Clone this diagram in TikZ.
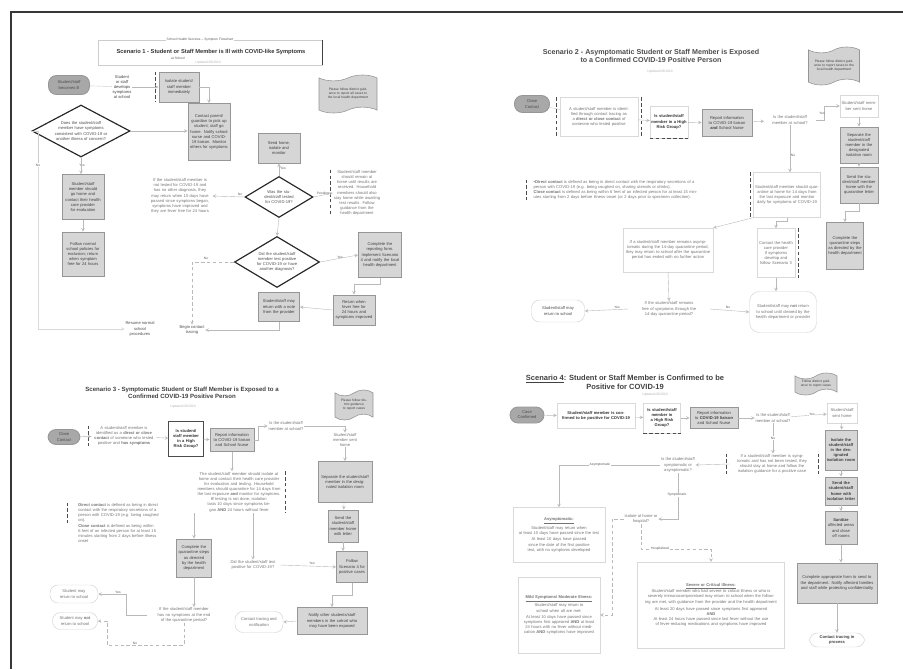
\documentclass[tikz,border=0pt]{standalone}
\usepackage{fontspec}
\setmainfont{Liberation Sans}
\usepackage{tikz}
\usetikzlibrary{shapes,arrows,positioning,calc}
\definecolor{boxgray}{RGB}{214,214,214}
\definecolor{edgegray}{RGB}{150,150,150}
\definecolor{pillgray}{RGB}{168,168,168}
\definecolor{inkgray}{RGB}{115,115,115}
\definecolor{framegray}{RGB}{55,55,55}
\newcommand\bxfont{\fontsize{3.5}{4.4}\selectfont}
\newcommand\smfont{\fontsize{2.8}{3.4}\selectfont}
\newcommand\ttlfont[2]{\fontsize{#1}{#2}\selectfont\bfseries}

\tikzset{
  gbox/.style={draw=edgegray, line width=0.7pt, fill=boxgray, align=center, inner sep=1pt, font=\bxfont, text=black!75},
  wbox/.style={draw=gray!30, line width=0.3pt, fill=white, align=center, inner sep=1pt, font=\bxfont, text=inkgray},
  txt/.style={align=center, inner sep=0.5pt, font=\bxfont, text=inkgray},
  pill/.style={rounded corners=2.4mm, draw=edgegray, line width=0.7pt, fill=pillgray, align=center, inner sep=1pt, font=\bxfont, text=black!70},
  wpill/.style={rounded corners=2.4mm, draw=gray!35, line width=0.4pt, fill=white, align=center, inner sep=1pt, font=\bxfont, text=inkgray},
  decide/.style={diamond, shape aspect=2, draw=black!85, line width=1pt, align=center, inner sep=0pt, font=\bxfont, text=black!70},
  doc/.style={tape, draw=edgegray, fill=gray!35, line width=0.5pt, align=center, inner sep=1pt, font=\smfont, text=black!75},
  conn/.style={->, >=stealth, draw=gray!55, line width=0.35pt},
  link/.style={draw=gray!40, line width=0.35pt},
  brk/.style={draw=black!70, densely dashed, line width=0.5pt},
  lbl/.style={font=\smfont, text=black!65, inner sep=0.5pt},
}

\begin{document}
\begin{tikzpicture}[x=0.3mm, y=-0.3mm]
\useasboundingbox (0,0) rectangle (903,669);
\draw[framegray, line width=1.3pt] (903,12) -- (11,12) -- (11,669);

% Scenario 1
\node[draw=gray!40, line width=0.5pt, minimum width=67.2mm, minimum height=7.5mm] (s1frame) at (210,52.5) {};
\draw[black!75, line width=0.7pt] (s1frame.north east) -- (s1frame.south east);
\node[lbl, fill=white] (s1top) at (200,40) {School Health Services -- Symptom Flowchart};
\node[txt, font={\ttlfont{4.9}{5.9}}, text=black!80] (s1title) at (211,52) {Scenario 1 - Student or Staff Member is Ill with COVID-like Symptoms};
\node[lbl] (s1sub) at (178,58) {at School};
\node[lbl, text=gray!60] (s1date) at (208,62.5) {Updated 08/2020};
\node[pill, minimum width=12.3mm, minimum height=5.7mm] (s1start) at (69,85) {Student/staff\\becomes ill};
\node[txt, text=black!75] (s1lbl) at (122,87) {Student\\or staff\\develops\\symptoms\\at school};
\node[gbox, text width=11mm, minimum width=12mm, minimum height=9mm] (s1iso) at (179,87) {Isolate student/\\staff member\\immediately};
\draw[brk] ([xshift=-1mm]s1iso.north west) -- ([xshift=-1mm]s1iso.south west);
\node[gbox, text width=11.6mm, minimum width=12.6mm, minimum height=17.1mm] (s1call) at (209,132) {Contact parent/ guardian to pick up student; staff go home. Notify school nurse and COVID-19 liaison. Monitor others for symptoms};
\node[doc, text width=15mm, minimum width=17.4mm, minimum height=11.4mm] (s1doc) at (348,94) {Please follow district guidance to report all cases to the local health department};
\node[decide, text width=17mm, minimum width=29.4mm, minimum height=15.6mm] (s1d1) at (81,131) {Does the student/staff member have symptoms consistent with COVID-19 or another illness of concern?};
\node[lbl] (s1no) at (38,165) {No};
\node[lbl] (s1yes) at (82,165) {Yes};
\node[gbox, text width=11.6mm, minimum width=12.6mm, minimum height=13.5mm] (s1b1) at (83,197) {Student/staff member should go home and contact their health care provider for evaluation};
\node[gbox, text width=11.6mm, minimum width=12.6mm, minimum height=13.2mm] (s1b2) at (83,254) {Follow normal school policies for exclusion; return when symptom free for 24 hours};
\node[txt, text width=19mm] (s1mid) at (180,196) {If the student/staff member is not tested for COVID-19 and has no other diagnosis, they may return when 10 days have passed since symptoms began, symptoms have improved and they are fever free for 24 hours};
\node[gbox, text width=11.6mm, minimum width=12.6mm, minimum height=9mm] (s1home) at (279,148) {Send home,\\isolate and\\monitor};
\node[decide, text width=10mm, minimum width=20.4mm, minimum height=12.3mm] (s1d2) at (279,197) {Was the student/staff tested for COVID-19?};
\node[txt, text width=14mm] (s1right) at (357,193) {Student/staff member should remain at home until results are received. Household members should also stay home while awaiting test results. Follow guidance from the health department};
\draw[brk] ([xshift=-0.8mm]s1right.north west) -- ([xshift=-0.8mm]s1right.south west);
\node[decide, text width=13mm, minimum width=25.5mm, minimum height=15.3mm] (s1d3) at (277,262) {Did the student/staff member test positive for COVID-19 or have another diagnosis?};
\node[gbox, text width=12mm, minimum width=12.9mm, minimum height=13.5mm] (s1rb) at (380,255) {Complete the reporting form. Implement Scenario 4 and notify the local health department};
\node[gbox, text width=11.4mm, minimum width=12.3mm, minimum height=8.7mm] (s1b3) at (279,307) {Student/staff may return with a note from the provider};
\node[gbox, text width=11.6mm, minimum width=12.6mm, minimum height=9mm] (s1b4) at (354,310) {Return when fever free for 24 hours and symptoms improved};
\node[txt, text=black!70] (s1ret) at (140,329) {Resume normal\\school\\procedures};
\node[txt, text=black!70] (s1beg) at (192,330) {Begin contact\\tracing};

\draw[link] (s1start) -- (s1lbl);
\draw[conn] (s1lbl) -- (s1iso);
\draw[conn] (s1iso.east) -| (s1call.north);
\draw[conn] (s1d1.east) -- (s1call.west |- s1d1.east);
\draw[conn] (s1d1.south) -- (s1d1.south |- s1b1.north);
\draw[conn] (s1b1) -- (s1b2);
\draw[link] (s1d1.west) -| (s1no.north);
\draw[conn, draw=gray!30] (s1no.south) |- (s1ret.west);
\draw[conn] (s1d2.north) -- (s1home.south);
\node[lbl] at (283,168) {Yes};
\draw[conn] (s1d2.west) -- (s1mid.east);
\node[lbl] at (240,194) {No};
\draw[conn] (s1d2.east) -- (s1right.west);
\node[lbl] at (323,194) {Pending};
\draw[conn] (s1d2.south) -- (s1d3.north);
\draw[conn] (s1d3.east) -- (s1rb.west);
\node[lbl] at (340,257) {Yes};
\draw[conn, densely dashed] (s1d3.west) -| (s1beg.north);
\node[lbl] at (206,258) {No};
\draw[conn] (s1rb.south) -- ++(0,6) -| (s1b4.north);
\draw[conn] (s1b4.west) -- (s1b3.east);
\draw[conn] (s1b3.south) |- (s1beg.east);

% Scenario 2
\node[txt, font={\ttlfont{6.1}{7.3}}, text=black!70] (s2title) at (651,56) {Scenario 2 - Asymptomatic Student or Staff Member is Exposed\\to a Confirmed COVID-19 Positive Person};
\node[lbl, text=gray!60] (s2date) at (660,72) {Updated 08/2020};
\node[doc, text width=13.5mm, minimum width=15.3mm, minimum height=11.4mm] (s2doc) at (834,66) {Please follow district guidance to report cases to the local health department};
\node[pill, minimum width=10.5mm, minimum height=5.1mm] (s2start) at (532,104) {Close\\Contact};
\node[wbox, text width=22.5mm, minimum width=23.4mm, minimum height=11.7mm] (s2exp) at (599,117) {A student/staff member is identified through contact tracing as a \textbf{direct or close contact} of someone who tested positive};
\draw[brk] ([xshift=-1mm]s2exp.north west) -- ([xshift=-1mm]s2exp.south west);
\draw[brk] ([xshift=1mm]s2exp.north east) -- ([xshift=1mm]s2exp.south east);
\node[wbox, text width=10.6mm, minimum width=11.4mm, minimum height=9.6mm, text=black!80, font=\bxfont\bfseries] (s2risk) at (669,122) {Is student/staff member in a High Risk Group?};
\draw[brk] (s2risk.south west) -- (s2risk.south east);
\node[gbox, text width=14mm, minimum width=15mm, minimum height=8.1mm] (s2rep) at (727,123) {Report information to COVID-19 liaison \textbf{and} School Nurse};
\node[txt, text width=15mm] (s2ill) at (790,120) {Is the student/staff member at school?};
\node[wbox, text width=10.6mm, minimum width=11.4mm, minimum height=6.6mm] (s2sent) at (859,106) {Student/staff member sent home};
\node[gbox, text width=10.6mm, minimum width=11.4mm, minimum height=10.8mm] (s2q1) at (859,145) {Separate the student/staff member in the designated isolation room};
\node[gbox, text width=10.6mm, minimum width=11.4mm, minimum height=10.8mm] (s2q2) at (859,185) {Send the student/staff member home with the quarantine letter};
\node[txt, text width=50mm, align=left] (s2def) at (617,190) {\textbf{\textbullet Direct contact} is defined as being in direct contact with the respiratory secretions of a person with COVID-19 (e.g. being coughed on, sharing utensils or drinks).\\\textbf{Close contact} is defined as being within 6 feet of an infected person for at least 15 minutes starting from 2 days before illness onset (or 2 days prior to specimen collection).};
\draw[brk] ([xshift=-2mm]s2def.north west) -- ([xshift=-2mm]s2def.south west);
\node[wbox, text width=19.2mm, minimum width=20.1mm, minimum height=13.5mm] (s2mem) at (787,195) {Student/staff member should quarantine at home for 14 days from the last exposure and monitor daily for symptoms of COVID-19};
\draw[brk] ([xshift=-1mm]s2mem.north west) -- ([xshift=-1mm]s2mem.south west);
\node[wbox, text width=10.6mm, minimum width=11.4mm, minimum height=14.7mm] (s2w) at (776,253) {Contact the health care provider if symptoms develop and follow Scenario 3};
\draw[brk] ([xshift=1mm]s2w.north east) -- ([xshift=1mm]s2w.south east);
\node[gbox, text width=10.2mm, minimum width=11.1mm, minimum height=14.1mm] (s2g) at (845,246) {Complete the quarantine steps as directed by the health department};
\node[wbox, text width=26mm, minimum width=27mm, minimum height=13.2mm] (s2x) at (668,250) {If a student/staff member remains asymptomatic during the 14-day quarantine period, they may return to school after the quarantine period has ended with no further action};
\node[wpill, minimum width=15.9mm, minimum height=6.6mm, text=black!70] (s2ret) at (558,311) {Student/staff may\\return to school};
\node[txt, text width=24mm] (s2q) at (669,309) {If the student/staff remains free of symptoms through the 14-day quarantine period?};
\node[wpill, rounded corners=3mm, text width=19mm, minimum width=20.1mm, minimum height=12.3mm] (s2end) at (783,312) {Student/staff may \textbf{not} return to school until cleared by the health department or provider};

\draw[link] (s2start) -- (s2exp);
\draw[conn] (s2exp) -- (s2risk);
\draw[conn] (s2risk) -- (s2rep);
\draw[conn] (s2rep) -- (s2ill);
\draw[conn] (s2ill.east) -- ++(8,0) |- (s2sent.west);
\node[lbl] at (822,113) {Yes};
\draw[conn] (s2sent) -- (s2q1);
\draw[conn] (s2q1) -- (s2q2);
\draw[conn] (s2q2.south) -- ++(0,8) -| (s2g.north);
\draw[conn] (s2ill.south) -- (s2ill.south |- s2mem.north);
\node[lbl] at (793,155) {No};
\draw[conn] (s2mem.south west) -- (s2x.north east);
\draw[conn] (s2mem.south) -- ++(0,4) -| (s2w.north);
\draw[conn] (s2x.south) -- (s2q.north);
\draw[conn] (s2q.west) -- (s2ret.east);
\node[lbl] at (617,307) {Yes};
\draw[conn] (s2q.east) -- (s2end.west);
\node[lbl] at (728,307) {No};
\draw[conn] (s2w.south) -- (s2w.south |- s2end.north);

% Scenario 3
\node[txt, font={\ttlfont{5.2}{6.2}}, text=black!75] (s3title) at (182,393) {Scenario 3 - Symptomatic Student or Staff Member is Exposed to a\\Confirmed COVID-19 Positive Person};
\node[lbl, text=gray!60] (s3date) at (183,407) {Updated 08/2020};
\node[doc, text width=10mm, minimum width=11.4mm, minimum height=9mm] (s3doc) at (354,405) {Please follow district guidance to report cases};
\node[pill, minimum width=9.6mm, minimum height=4.5mm] (s3start) at (64,437) {Close\\Contact};
\node[txt, text width=19mm] (s3exp) at (124,436) {A student/staff member is identified as a \textbf{direct or close contact} of someone who tested positive and \textbf{has symptoms}};
\draw[brk] ([xshift=-1mm]s3exp.north west) -- ([xshift=-1mm]s3exp.south west);
\node[wbox, draw=black!70, text width=9.6mm, minimum width=10.5mm, minimum height=10.5mm, text=black!80, font=\bxfont\bfseries] (s3risk) at (186,439) {Is student/ staff member in a High Risk Group?};
\node[gbox, text width=12.3mm, minimum width=13.2mm, minimum height=6.9mm] (s3rep) at (232,440) {Report information to COVID-19 liaison and School Nurse};
\node[txt] (s3ill) at (286,426) {Is the student/staff\\member at school?};
\node[txt] (s3sent) at (345,440) {Student/staff\\member sent\\home};
\node[txt, text width=25.5mm] (s3big) at (239,492) {The student/staff member should isolate at home and contact their health care provider for evaluation and testing. Household members should quarantine for 14 days from the last exposure \textbf{and} monitor for symptoms.\\ \textbf{If} testing is not done, isolation lasts 10 days since symptoms began \textbf{AND} 24 hours without fever};
\draw[brk] ([xshift=1mm]s3big.north east) -- ([xshift=1mm]s3big.south east);
\node[gbox, text width=15.3mm, minimum width=16.2mm, minimum height=12.3mm] (s3q1) at (345,482) {Separate the student/staff member in the designated isolation room};
\node[gbox, text width=8.1mm, minimum width=9mm, minimum height=9.6mm] (s3q2) at (343,526) {Send the student/staff member home with letter};
\node[txt, text width=25mm, align=left] (s3def) at (120,523) {\textbf{Direct contact} is defined as being in direct contact with the respiratory secretions of a person with COVID-19 (e.g. being coughed on).\\\textbf{Close contact} is defined as being within 6 feet of an infected person for at least 15 minutes starting from 2 days before illness onset};
\draw[brk] ([xshift=-3mm]s3def.north west) -- ([xshift=-3mm]s3def.west);
\node[gbox, text width=9.6mm, minimum width=10.5mm, minimum height=11.4mm] (s3g) at (194,558) {Complete the quarantine steps as directed by the health department};
\node[txt, text width=16mm] (s3if) at (253,565) {Did the student/staff test positive for COVID-19?};
\node[gbox, text width=8.4mm, minimum width=9.3mm, minimum height=9.3mm] (s3g2) at (352,567) {Follow Scenario 4 for positive cases};
\node[wpill, minimum width=14.4mm, minimum height=5.4mm] (s3ret) at (74,594) {Student may\\return to school};
\node[wpill, minimum width=13.5mm, minimum height=5.1mm] (s3not) at (75,621) {Student may \textbf{not}\\return to school};
\node[txt, text width=22mm] (s3q) at (184,615) {If the student/staff member has no symptoms at the end of the quarantine period?};
\node[wpill, minimum width=14.4mm, minimum height=6.3mm] (s3pill) at (259,622) {Contact tracing and\\notification};
\node[gbox, text width=20mm, minimum width=21mm, minimum height=8.1mm] (s3g3) at (332,621) {Notify other students/staff members in the cohort who may have been exposed};

\draw[conn] (s3start) -- (s3exp);
\draw[conn] (s3exp) -- (s3risk);
\draw[conn] (s3risk) -- (s3rep);
\draw[conn] (s3rep.east) -- ++(4,0) |- (s3ill.west);
\draw[conn] (s3ill.east) -| (s3sent.north);
\draw[conn] (s3sent) -- (s3q1);
\draw[conn] (s3q1) -- (s3q2);
\draw[conn] (s3rep.south) -- (s3rep.south |- s3big.north);
\draw[conn] (s3big.south -| s3g.north) -- (s3g.north);
\draw[conn] (s3big.south -| s3if.north) -- (s3if.north);
\draw[conn] (s3q2.south) -- (s3q2.south |- s3g2.north);
\draw[conn] (s3if.east) -- (s3g2.west);
\node[lbl] at (312,563) {Yes};
\draw[conn] (s3g2.south) -- ++(0,12) -| (s3g3.north);
\draw[conn] (s3g3.west) -- (s3pill.east);
\draw[conn] (s3g.south) -- (s3g.south |- s3q.north);
\draw[conn] (s3q.west) -- ++(-20,0) |- (s3ret.east);
\node[lbl] at (118,592) {Yes};
\coordinate (s3c) at (107,645);
\draw[conn, densely dashed] (s3q.south) |- (s3c) |- (s3not.east);
\node[lbl] at (135,643) {No};

% Scenario 4
\node[txt, font={\ttlfont{6.4}{7.4}}, text=black!75] (s4title) at (625,382) {\underline{Scenario 4}: Student or Staff Member is Confirmed to be\\Positive for COVID-19};
\node[lbl, text=gray!60] (s4date) at (655,395) {Updated 08/2020};
\node[doc, text width=11mm, minimum width=12.6mm, minimum height=6.6mm] (s4doc) at (816,384) {Follow district guidance to report cases};
\node[pill, minimum width=10.2mm, minimum height=4.8mm] (s4start) at (527,415) {Case\\Confirmed};
\node[wbox, text width=22.5mm, minimum width=23.4mm, minimum height=7.5mm, text=black!80, font=\bxfont\bfseries] (s4conf) at (596,416) {Student/staff member is confirmed to be positive for COVID-19};
\node[wbox, text width=10.2mm, minimum width=11.1mm, minimum height=9mm, text=black!80, font=\bxfont\bfseries] (s4risk) at (662,418) {Is student/staff member in a High Risk Group?};
\draw[brk] (s4risk.south west) -- (s4risk.south east);
\node[gbox, text width=13.5mm, minimum width=14.4mm, minimum height=6.3mm] (s4rep) at (714,418) {Report information to \textbf{COVID-19 liaison} and School Nurse};
\node[txt] (s4ill) at (773,418) {Is the student/staff\\member at school?};
\node[wbox, text width=8.1mm, minimum width=9mm, minimum height=6mm] (s4tr) at (842,413) {Student/staff sent home};
\node[gbox, text width=8.7mm, minimum width=9.6mm, minimum height=12mm, font=\bxfont\bfseries] (s4g1) at (841,450) {Isolate the student/staff in the designated isolation room};
\node[gbox, text width=8.7mm, minimum width=9.6mm, minimum height=8.4mm, font=\bxfont\bfseries] (s4g2) at (841,491) {Send the student/staff home with isolation letter};
\node[gbox, text width=8.7mm, minimum width=9.6mm, minimum height=9.9mm] (s4g3) at (841,528) {\textbf{Sanitize} affected areas and close off rooms};
\node[txt, text width=25mm] (s4cl) at (772,464) {If a student/staff member is symptomatic and has not been tested, they should stay at home and follow the isolation guidance for a positive case};
\draw[brk] ([xshift=-1mm]s4cl.north west) -- ([xshift=-1mm]s4cl.south west);
\draw[brk] ([xshift=1mm]s4cl.north east) -- ([xshift=1mm]s4cl.south east);
\node[txt] (s4sym) at (678,465) {Is the student/staff\\symptomatic or\\asymptomatic?};
\node[txt] (s4iso) at (641,519) {Isolate at home or\\hospital?};
\node[wbox, text width=26.7mm, minimum width=27.6mm, minimum height=16.5mm] (s4asym) at (559,535) {\underline{\textbf{Asymptomatic:}}\\[1pt]Student/staff may return when\\at least 10 days have passed since the test\\[1pt]At least 10 days have passed since the date of the first positive test, with no symptoms developed};
\node[wbox, text width=23.7mm, minimum width=24.6mm, minimum height=22.8mm] (s4mild) at (559,615) {\underline{\textbf{Mild Symptoms/ Moderate Illness:}}\\[1pt]Student/staff may return to school when all are met:\\[1pt]At least 10 days have passed since symptoms first appeared \textbf{AND} at least 24 hours with no fever without medication \textbf{AND} symptoms have improved};
\node[wbox, text width=43mm, minimum width=44.1mm, minimum height=25.8mm] (s4sev) at (711,605) {\underline{\textbf{Severe or Critical Illness:}}\\Student/staff member who had severe to critical illness or who is severely immunocompromised may return to school when the following are met, with guidance from the provider and the health department\\[2pt]At least 20 days have passed since symptoms first appeared\\\textbf{AND}\\At least 24 hours have passed since last fever without the use of fever-reducing medications and symptoms have improved};
\node[gbox, text width=23mm, minimum width=24mm, minimum height=12mm] (s4comp) at (837,583) {Complete appropriate form to send to the department. Notify affected families and staff while protecting confidentiality};
\node[wpill, minimum width=16.5mm, minimum height=4.2mm, text=black!75, font=\bxfont\bfseries] (s4end) at (837,640) {Contact tracing in\\process};

\draw[conn] (s4start) -- (s4conf);
\draw[conn] (s4conf) -- (s4risk);
\draw[conn] (s4risk) -- (s4rep);
\draw[conn] (s4rep) -- (s4ill);
\draw[conn] (s4ill) -- (s4tr);
\node[lbl, fill=white] at (812,414) {Yes};
\draw[conn] (s4tr) -- (s4g1);
\draw[conn] (s4g1) -- (s4g2);
\draw[conn] (s4g2) -- (s4g3);
\draw[conn] (s4g3.south) -- (s4g3.south |- s4comp.north);
\draw[conn] (s4comp) -- (s4end);
\draw[conn] (s4ill.south) -- (s4ill.south |- s4cl.north);
\node[lbl, fill=white] at (773,438) {No};
\draw[conn] (s4cl.west) -- (s4sym.east);
\draw[conn] (s4sym.west) -| (s4asym.north);
\node[lbl, fill=white] at (600,465) {Asymptomatic};
\draw[conn] (s4sym.south) |- (s4iso.east);
\node[lbl, fill=white] at (677,495) {Symptomatic};
\coordinate (s4fork) at (612,519);
\draw[conn, densely dashed] (s4iso.west) -- (s4fork) |- (s4mild.east);
\draw[conn, densely dashed] (s4iso.south) |- ($(s4sev.north)+(0,-13)$) -- (s4sev.north);
\node[lbl, fill=white] at (660,549) {Hospitalized};
\end{tikzpicture}
\end{document}
